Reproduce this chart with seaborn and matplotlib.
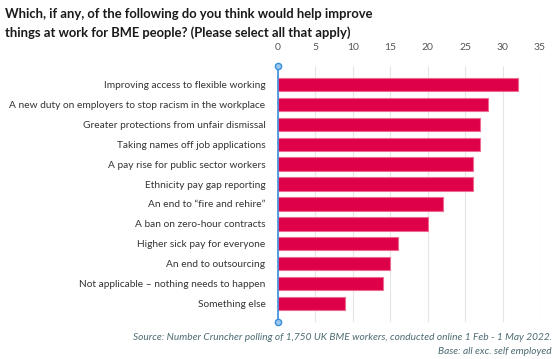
import matplotlib
matplotlib.use("Agg")
import matplotlib.pyplot as plt
import seaborn as sns
import pandas as pd

categories = [
    "Improving access to flexible working",
    "A new duty on employers to stop racism in the workplace",
    "Greater protections from unfair dismissal",
    "Taking names off job applications",
    "A pay rise for public sector workers",
    "Ethnicity pay gap reporting",
    "An end to \u201cfire and rehire\u201d",
    "A ban on zero-hour contracts",
    "Higher sick pay for everyone",
    "An end to outsourcing",
    "Not applicable \u2013 nothing needs to happen",
    "Something else",
]
values = [32, 28, 27, 27, 26, 26, 22, 20, 16, 15, 14, 9]
xticks = [0, 5, 10, 15, 20, 25, 30, 35]

df = pd.DataFrame({"category": categories, "value": values})

sns.set_theme(style="white")
plt.rcParams["font.family"] = ["Lato", "DejaVu Sans"]

fig = plt.figure(figsize=(5.57, 3.59), dpi=100)
ax = fig.add_axes([278/557, 1 - 322/359, (540-278)/557, (322-66)/359])

sns.barplot(data=df, x="value", y="category", ax=ax, color="#DE0049",
            saturation=1, width=0.66, edgecolor="#F06A90", linewidth=0.8)

ax.set_xlim(0, 35)
ax.set_xticks(xticks)
ax.set_xticklabels([str(t) for t in xticks], fontsize=7.5, color="#555555")
ax.xaxis.tick_top()
ax.tick_params(axis="x", length=0, pad=10)
ax.tick_params(axis="y", length=3, color="#3B8FD9", labelsize=7.3, labelcolor="#333333", pad=9, direction="in")
ax.set_xlabel("")
ax.set_ylabel("")
ax.grid(axis="x", color="#E6E6E6", linewidth=0.8)
ax.set_axisbelow(True)
for s in ["top", "right", "bottom"]:
    ax.spines[s].set_visible(False)
ax.spines["left"].set_color("#3B8FD9")
ax.spines["left"].set_linewidth(1.2)
ax.plot([0, 0], [1, 0], transform=ax.transAxes, marker="o", markersize=4.5,
        color="#3B8FD9", markerfacecolor="#9CC8F0", linestyle="none", clip_on=False, zorder=5)

fig.text(5/557, 1 - 14/359, "Which, if any, of the following do you think would help improve",
         fontsize=9.4, fontweight="bold", color="#1a1a1a", va="center", ha="left")
fig.text(5/557, 1 - 33/359, "things at work for BME people? (Please select all that apply)",
         fontsize=9.4, fontweight="bold", color="#1a1a1a", va="center", ha="left")

fig.text(552/557, 1 - 337/359,
         "Source: Number Cruncher polling of 1,750 UK BME workers, conducted online 1 Feb - 1 May 2022.",
         fontsize=7.3, style="italic", color="#4D6B73", ha="right", va="center")
fig.text(552/557, 1 - 352/359, "Base: all exc. self employed",
         fontsize=7.3, style="italic", color="#4D6B73", ha="right", va="center")

fig.savefig("out.png", dpi=100)
